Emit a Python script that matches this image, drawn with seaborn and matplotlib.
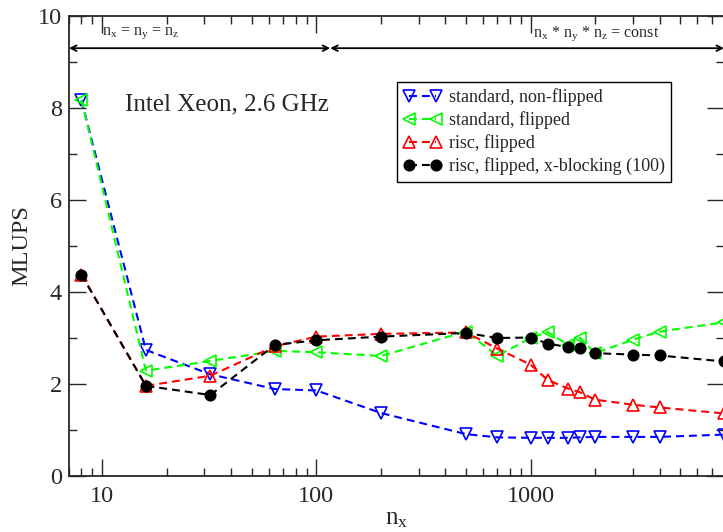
import numpy as np
import pandas as pd
import matplotlib as mpl
mpl.use("Agg")
import matplotlib.pyplot as plt
import matplotlib.ticker as ticker
import seaborn as sns

# values
nx = [8, 16, 32, 64, 100, 200, 500, 700, 1000, 1200, 1500, 1700, 2000, 3000, 4000, 8000]
std_nonflip = [8.17, 2.74, 2.21, 1.89, 1.86, 1.37, 0.91, 0.84, 0.83, 0.83, 0.83, 0.84, 0.85, 0.85, 0.85, 0.9]
std_flip = [8.18, 2.29, 2.50, 2.72, 2.69, 2.61, 3.14, 2.61, 3.0, 3.13, 2.85, 3.01, 2.67, 2.96, 3.14, 3.34]
risc_flip = [4.38, 1.96, 2.18, 2.82, 3.03, 3.09, 3.12, 2.77, 2.42, 2.09, 1.9, 1.82, 1.66, 1.55, 1.49, 1.36]
risc_block = [4.38, 1.96, 1.76, 2.85, 2.95, 3.03, 3.11, 3.0, 3.01, 2.88, 2.80, 2.79, 2.67, 2.64, 2.62, 2.49]

labels = ['standard, non-flipped', 'standard, flipped', 'risc, flipped', 'risc, flipped, x-blocking (100)']
colors = ['#0000ff', '#00ff00', '#ff0000', '#000000']
markers = ['v', '<', '^', 'o']

sns.set_style("ticks")
plt.rcParams['font.family'] = ['Liberation Serif', 'DejaVu Serif']
plt.rcParams['mathtext.fontset'] = 'custom'
plt.rcParams['mathtext.rm'] = 'Liberation Serif'
plt.rcParams['mathtext.it'] = 'Liberation Serif'

fig = plt.figure(figsize=(7.23, 5.32), dpi=100)
ax = fig.add_axes([69/723, 1-476/532, 655/723, 460/532])

series = [std_nonflip, std_flip, risc_flip, risc_block]
for vals, lab, col, mk in zip(series, labels, colors, markers):
    df = pd.DataFrame({'nx': nx, 'mlups': vals})
    filled = mk == 'o'
    sns.lineplot(data=df, x='nx', y='mlups', ax=ax, label=lab, color=col,
                 marker=mk, markersize=7.5 if filled else 9,
                 markerfacecolor=col if filled else 'none', markeredgecolor=col,
                 markeredgewidth=1.2, linewidth=1.5, dashes=(3.8, 2.4))

ax.set_xscale('log')
ax.set_xlim(7, 8000)
ax.set_ylim(0, 10)
ax.yaxis.set_major_locator(ticker.MultipleLocator(2))
ax.yaxis.set_minor_locator(ticker.MultipleLocator(1))
ax.xaxis.set_major_formatter(ticker.FuncFormatter(lambda v, _: f"{v:g}"))
ax.tick_params(which='both', direction='in', top=True, right=True, labelsize=17.5, width=1)
ax.tick_params(which='major', length=12)
ax.tick_params(which='minor', length=6)
ax.tick_params(axis='x', which='major', pad=7)
ax.tick_params(axis='y', which='major', pad=5)
for s in ax.spines.values():
    s.set_linewidth(1.3)

ax.set_xlabel(r'n$_{\mathrm{x}}$', fontsize=18, labelpad=1)
ax.set_ylabel('MLUPS', fontsize=17.5, labelpad=4)

# region arrows
ax.annotate('', xy=(7, 9.3), xytext=(116, 9.3),
            arrowprops=dict(arrowstyle='<->', lw=1.3, color='black', shrinkA=0, shrinkB=0))
ax.annotate('', xy=(116, 9.3), xytext=(8000, 9.3),
            arrowprops=dict(arrowstyle='<->', lw=1.3, color='black', shrinkA=0, shrinkB=0))
ax.text(10, 9.62, r'n$_{\mathrm{x}}$ = n$_{\mathrm{y}}$ = n$_{\mathrm{z}}$', fontsize=11.5, va='center')
ax.text(1030, 9.62, r'n$_{\mathrm{x}}$ * n$_{\mathrm{y}}$ * n$_{\mathrm{z}}$ = const', fontsize=11.5, va='center')
ax.text(12.8, 8.08, 'Intel Xeon, 2.6 GHz', fontsize=18, va='center')

leg = ax.legend(loc='upper left', bbox_to_anchor=(0.501, 0.857), borderaxespad=0,
                fontsize=13, numpoints=2, handlelength=2.1, labelspacing=0.29,
                fancybox=False, framealpha=1, edgecolor='black', borderpad=0.35,
                handletextpad=0.4)
leg.get_frame().set_linewidth(1.0)

fig.savefig('out.png', dpi=100)
